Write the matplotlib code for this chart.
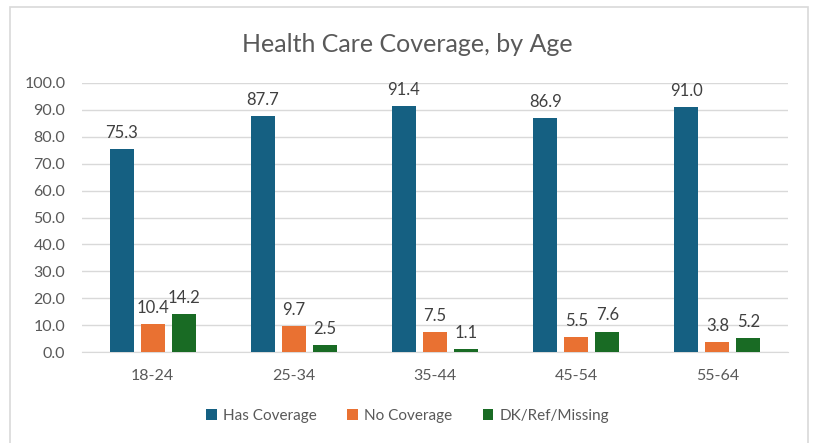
import matplotlib
matplotlib.use("Agg")
import matplotlib.pyplot as plt
import numpy as np
from matplotlib.patches import Rectangle

categories = ["18-24", "25-34", "35-44", "45-54", "55-64"]
has_coverage = [75.3, 87.7, 91.4, 86.9, 91.0]
no_coverage = [10.4, 9.7, 7.5, 5.5, 3.8]
dk_missing = [14.2, 2.5, 1.1, 7.6, 5.2]
series_names = ["Has Coverage", "No Coverage", "DK/Ref/Missing"]
colors = ["#156082", "#E97132", "#196B24"]
yticks = [0, 10, 20, 30, 40, 50, 60, 70, 80, 90, 100]

plt.rcParams['font.family'] = ['Lato', 'DejaVu Sans']
text_color = "#595959"

fig = plt.figure(figsize=(8.15, 4.43), dpi=100)
fig.patches.append(Rectangle((10/815, -0.05), 798/815, 1 - 7/443 + 0.05,
                             transform=fig.transFigure, fill=False,
                             edgecolor="#D9D9D9", linewidth=1.2))
ax = fig.add_axes([82/815, 1 - 352/443, (788 - 82)/815, (352 - 83)/443])

x = np.arange(len(categories))
width = 0.17
pitch = 0.22
for i, (vals, name, c) in enumerate(zip([has_coverage, no_coverage, dk_missing], series_names, colors)):
    pos = x + (i - 1) * pitch
    bars = ax.bar(pos, vals, width, color=c, label=name, zorder=3)
    for b, v in zip(bars, vals):
        ax.text(b.get_x() + b.get_width() / 2, v + 3, f"{v:.1f}",
                ha="center", va="bottom", fontsize=12, color="#404040")

ax.set_ylim(0, 100)
ax.set_xlim(-0.5, len(categories) - 0.5)
ax.set_yticks(yticks)
ax.set_yticklabels([f"{t:.1f}" for t in yticks])
ax.set_xticks(x)
ax.set_xticklabels(categories)
ax.tick_params(axis="both", length=0, colors=text_color, labelsize=11.5)
ax.tick_params(axis="x", pad=12)
ax.tick_params(axis="y", pad=12)
ax.grid(axis="y", color="#D9D9D9", linewidth=1, zorder=0)
for s in ["top", "right", "left"]:
    ax.spines[s].set_visible(False)
ax.spines["bottom"].set_color("#D9D9D9")

fig.text(0.5, 1 - 45/443, "Health Care Coverage, by Age", ha="center", va="center",
         fontsize=18, color=text_color)

handles, labels = ax.get_legend_handles_labels()
fig.legend(handles, labels, loc="center", bbox_to_anchor=(0.5, 1 - 416/443), ncol=3,
           frameon=False, fontsize=11, handlelength=0.7, handleheight=0.7,
           handletextpad=0.4, columnspacing=2.0, labelcolor=text_color)

fig.savefig("out.png", dpi=100)
